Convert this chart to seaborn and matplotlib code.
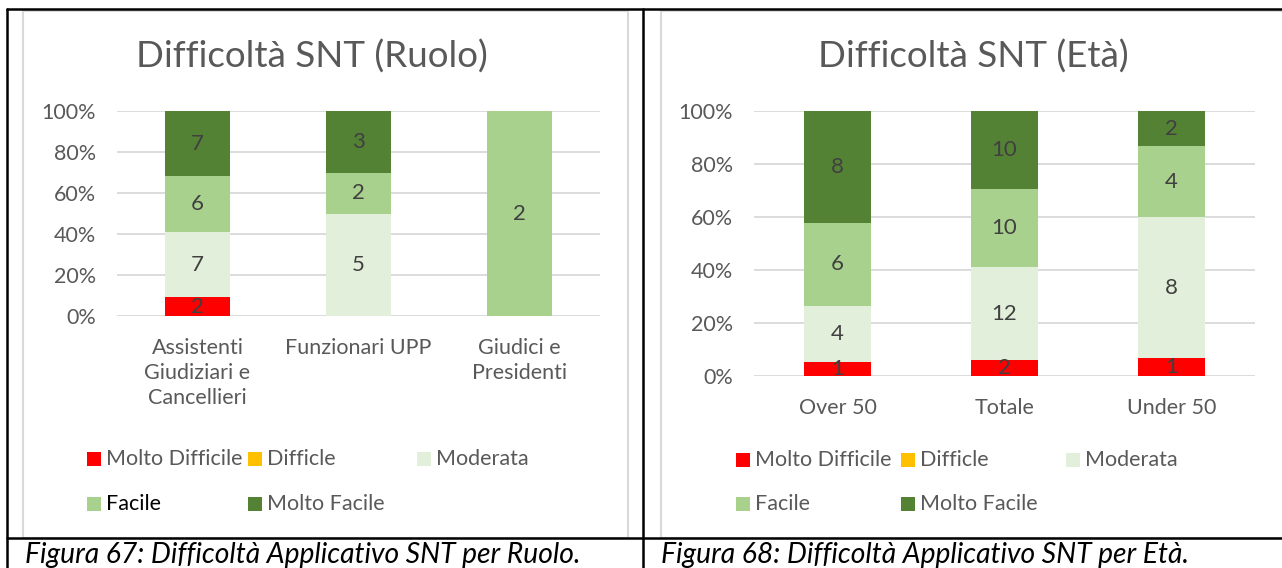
import numpy as np
import pandas as pd
import matplotlib
matplotlib.use("Agg")
import matplotlib.pyplot as plt
import seaborn as sns
from matplotlib.patches import Rectangle
from matplotlib.lines import Line2D

# ---- data -------------------------------------------------------------
levels = ["Molto Difficile", "Difficle", "Moderata", "Facile", "Molto Facile"]
level_colors = ["#FF0000", "#FFC000", "#E2EFDA", "#A9D18E", "#548235"]

ruolo_categories = ["Assistenti\nGiudiziari e\nCancellieri", "Funzionari UPP", "Giudici e\nPresidenti"]
ruolo_molto_difficile = [2, 0, 0]
ruolo_difficile = [0, 0, 0]
ruolo_moderata = [7, 5, 0]
ruolo_facile = [6, 2, 2]
ruolo_molto_facile = [7, 3, 0]

eta_categories = ["Over 50", "Totale", "Under 50"]
eta_molto_difficile = [1, 2, 1]
eta_difficile = [0, 0, 0]
eta_moderata = [4, 12, 8]
eta_facile = [6, 10, 4]
eta_molto_facile = [8, 10, 2]

y_ticks = [0, 20, 40, 60, 80, 100]

# ---- style ------------------------------------------------------------
sns.set_style("white")
plt.rcParams["font.family"] = ["Lato", "DejaVu Sans"]

W, H = 1282, 568
fig = plt.figure(figsize=(W / 100, H / 100), dpi=100)
fig.patch.set_facecolor("white")

TEXT_GREY = "#595959"
LABEL_GREY = "#404040"
GRID_GREY = "#D9D9D9"
TICK_FS = 15.5
TITLE_FS = 26.5
CAPTION_FS = 20.3


def fx(px):
    return px / W


def fy(py):
    return 1 - py / H


def add_axes_px(x0, y_top, x1, y_bottom):
    return fig.add_axes([fx(x0), fy(y_bottom), (x1 - x0) / W, (y_bottom - y_top) / H])


def stacked_percent(ax, categories, series):
    counts = np.array(series, dtype=float)
    pct = counts / counts.sum(axis=0) * 100
    bottoms = np.vstack([np.zeros(len(categories)), np.cumsum(pct, axis=0)[:-1]])
    for i, color in enumerate(level_colors):
        df = pd.DataFrame({"cat": categories, "pct": pct[i]})
        sns.barplot(data=df, x="cat", y="pct", order=categories, color=color,
                    saturation=1, width=0.4, bottom=bottoms[i], errorbar=None,
                    linewidth=0, ax=ax, zorder=2)
        for j in range(len(categories)):
            if counts[i, j] > 0:
                ax.text(j, bottoms[i, j] + pct[i, j] / 2, f"{int(counts[i, j])}",
                        ha="center", va="center", fontsize=16, color=LABEL_GREY,
                        zorder=3)
    ax.set_xlim(-0.5, len(categories) - 0.5)
    ax.set_ylim(0, 100)
    ax.set_yticks(y_ticks)
    ax.set_yticklabels([f"{v}%" for v in y_ticks])
    ax.set_xlabel("")
    ax.set_ylabel("")
    ax.yaxis.grid(True, color=GRID_GREY, linewidth=1.3, zorder=0)
    ax.xaxis.grid(False)
    ax.set_axisbelow(True)
    for s in ax.spines.values():
        s.set_visible(False)
    ax.tick_params(axis="y", length=0, pad=15, labelsize=TICK_FS, labelcolor=TEXT_GREY)
    ax.tick_params(axis="x", length=0, pad=15.5, labelsize=TICK_FS, labelcolor=TEXT_GREY)
    for t in ax.get_xticklabels():
        t.set_linespacing(1.32)


def legend_px(x0, y_row1, y_row2, col_step, facile_color=TEXT_GREY):
    positions = [(x0, y_row1), (x0 + col_step[0], y_row1), (x0 + col_step[1], y_row1),
                 (x0, y_row2), (x0 + col_step[0], y_row2)]
    for (px, py), name, color in zip(positions, levels, level_colors):
        fig.patches.append(Rectangle((fx(px), fy(py + 7)), 14 / W, 14 / H,
                                     transform=fig.transFigure, facecolor=color,
                                     edgecolor="none"))
        tc = facile_color if name == "Facile" else TEXT_GREY
        fig.text(fx(px + 19), fy(py), name, ha="left", va="center",
                 fontsize=TICK_FS, color=tc)


# ---- frame: table borders and chart areas -----------------------------
for x0, x1 in [(23, 628), (661, 1290)]:
    fig.patches.append(Rectangle((fx(x0), fy(538)), (x1 - x0) / W, (538 - 11) / H,
                                 transform=fig.transFigure, facecolor="none",
                                 edgecolor=GRID_GREY, linewidth=1.5, zorder=-1))
for xs, ys in [((fx(7), 1), (fy(9), fy(9))),
               ((fx(7), 1), (fy(538), fy(538))),
               ((fx(7), fx(7)), (fy(9), 0)),
               ((fx(643), fx(643)), (fy(9), 0))]:
    fig.lines.append(Line2D(xs, ys, transform=fig.transFigure, color="black",
                            linewidth=1.8, zorder=10))

# ---- left panel --------------------------------------------------------
ax1 = add_axes_px(117, 111, 600, 316)
stacked_percent(ax1, ruolo_categories,
                [ruolo_molto_difficile, ruolo_difficile, ruolo_moderata,
                 ruolo_facile, ruolo_molto_facile])
fig.text(fx(312), fy(57), "Difficoltà SNT (Ruolo)", ha="center", va="center",
         fontsize=TITLE_FS, color=TEXT_GREY)
legend_px(87, 459, 504, (161, 330), facile_color="black")
fig.text(fx(25), fy(555), "Figura 67: Difficoltà Applicativo SNT per Ruolo.",
         ha="left", va="center", fontsize=CAPTION_FS, style="italic", color="black")

# ---- right panel -------------------------------------------------------
ax2 = add_axes_px(754, 111, 1255, 376)
stacked_percent(ax2, eta_categories,
                [eta_molto_difficile, eta_difficile, eta_moderata,
                 eta_facile, eta_molto_facile])
fig.text(fx(973), fy(57), "Difficoltà SNT (Età)", ha="center", va="center",
         fontsize=TITLE_FS, color=TEXT_GREY)
legend_px(736, 460, 504, (165, 330))
fig.text(fx(661), fy(555), "Figura 68: Difficoltà Applicativo SNT per Età.",
         ha="left", va="center", fontsize=CAPTION_FS, style="italic", color="black")

fig.savefig("out.png", dpi=100, facecolor="white")
